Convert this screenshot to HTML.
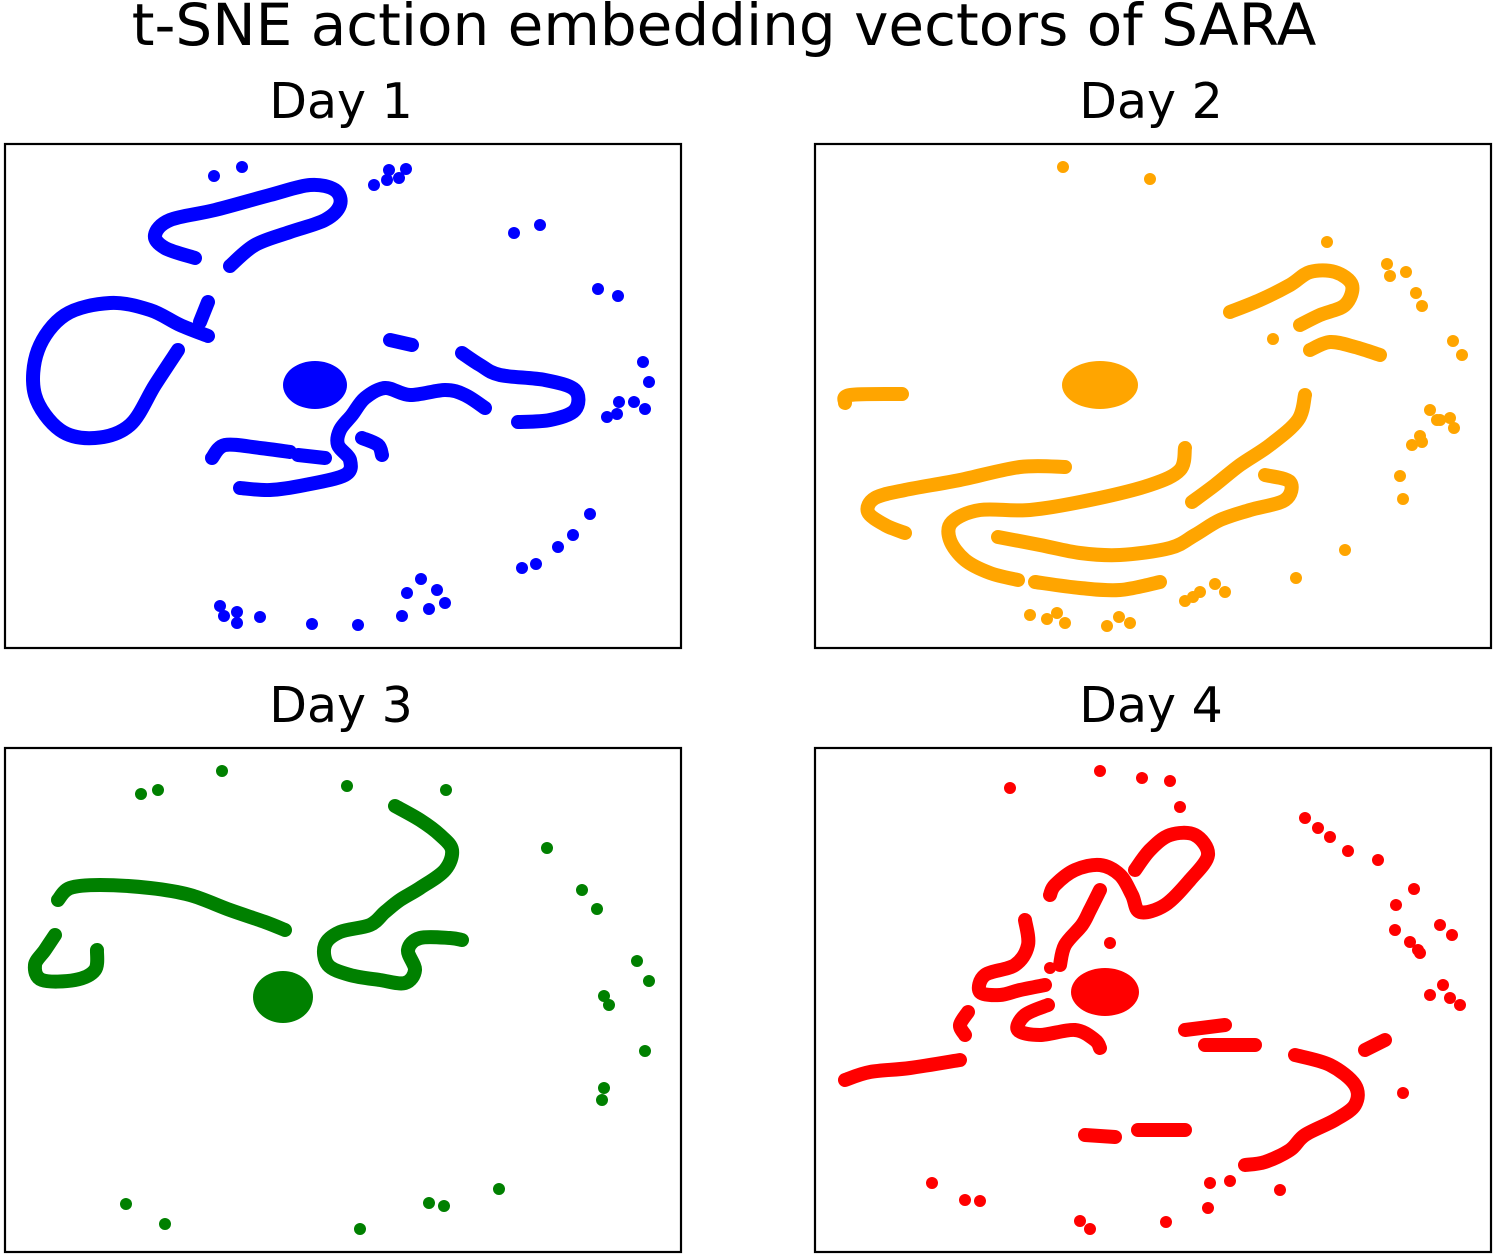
<!DOCTYPE html>
<html><head><meta charset="utf-8"><style>
html,body{margin:0;padding:0;background:#fff}
svg{display:block}
text{font-family:"DejaVu Sans","Liberation Sans",sans-serif;fill:#000}
</style></head><body>
<svg id="chart" width="1495" height="1256" viewBox="0 0 1495 1256" xmlns="http://www.w3.org/2000/svg">
<text x="724" y="45" font-size="58" text-anchor="middle">t-SNE action embedding vectors of SARA</text>
</svg>
<script>
// Panel data (t-SNE embedding coordinates, arbitrary units)
const panelTitles = ["Day 1", "Day 2", "Day 3", "Day 4"];
const panelColors = ["#0000ff", "#ffa500", "#008000", "#ff0000"];
const day1Curves = [
 [[195,258],[165,248],[155,235],[170,220],[215,210],[270,195],[310,185],[335,190],[340,205],[325,220],[290,232],[255,245],[230,266]],
 [[208,336],[180,325],[150,310],[110,303],[65,315],[38,350],[35,395],[60,430],[95,438],[130,425],[155,385],[178,350]],
 [[200,322],[208,302]],
 [[390,340],[412,345]],
 [[462,353],[480,365],[500,375],[545,380],[575,390],[575,410],[550,420],[518,422]],
 [[485,408],[465,395],[445,390],[410,395],[385,388],[365,398],[352,415],[340,430],[338,445],[350,460],[345,475],[305,485],[270,490],[240,488]],
 [[212,458],[225,445],[260,448],[290,452]],
 [[298,455],[325,458]],
 [[362,438],[378,445],[382,455]]
];
const day1Cluster = [315,385,32,24];
const day1Points = [[214,176],[242,167],[374,185],[387,180],[389,170],[399,178],[406,169],[514,233],[540,225],[598,289],[618,296],[643,362],[649,382],[619,402],[634,402],[645,409],[607,417],[617,414],[590,514],[573,535],[558,547],[536,564],[522,568],[421,579],[407,593],[437,590],[445,603],[429,609],[402,616],[220,606],[224,616],[237,612],[237,623],[260,617],[312,624],[358,625]];
const day2Curves = [
 [[1230,312],[1260,300],[1290,285],[1310,272],[1335,272],[1352,285],[1345,305],[1320,315],[1300,325]],
 [[1310,350],[1330,342],[1355,347],[1380,355]],
 [[845,403],[850,395],[902,394]],
 [[1305,395],[1298,420],[1270,445],[1240,465],[1215,485],[1192,502]],
 [[1065,467],[1020,467],[960,480],[905,490],[875,498],[868,512],[885,525],[905,533]],
 [[1185,448],[1180,470],[1150,485],[1090,500],[1030,510],[980,510],[952,522],[950,540],[965,560],[990,573],[1018,580]],
 [[1265,475],[1290,482],[1285,500],[1250,510],[1220,520],[1195,535],[1170,548],[1120,555],[1080,553],[1040,545],[998,537]],
 [[1035,582],[1080,588],[1120,590],[1160,582]]
];
const day2Cluster = [1100,385,38,24];
const day2Points = [[1063,167],[1150,179],[1327,242],[1387,264],[1390,276],[1406,272],[1416,293],[1422,306],[1273,339],[1453,341],[1462,355],[1430,410],[1440,420],[1450,418],[1454,428],[1437,420],[1420,436],[1412,445],[1422,442],[1400,476],[1403,499],[1345,550],[1296,578],[1215,584],[1225,592],[1200,592],[1185,601],[1193,597],[1030,615],[1047,619],[1057,613],[1065,623],[1107,626],[1119,617],[1130,623]];
const day3Curves = [
 [[285,930],[265,922],[230,910],[190,895],[150,888],[100,885],[70,888],[58,900]],
 [[55,935],[45,950],[35,965],[42,980],[75,980],[95,970],[97,950]],
 [[395,806],[420,820],[440,835],[452,850],[445,870],[420,888],[400,900],[385,912],[370,925],[340,932],[325,945],[328,965],[350,975],[380,980],[405,983],[415,970],[408,950],[420,938],[450,938],[462,940]]
];
const day3Cluster = [283,997,30,26];
const day3Points = [[222,771],[141,794],[158,790],[347,786],[446,790],[547,848],[582,890],[597,909],[637,961],[649,981],[604,996],[609,1005],[645,1051],[604,1088],[602,1100],[499,1189],[429,1203],[444,1206],[126,1204],[165,1224],[360,1229]];
const day4Curves = [
 [[1135,870],[1150,850],[1170,835],[1195,835],[1208,855],[1190,880],[1165,905],[1140,912],[1132,895],[1120,875],[1100,865],[1075,870],[1055,885],[1050,895]],
 [[1060,965],[1065,945],[1082,925],[1090,910],[1100,890]],
 [[1025,920],[1028,945],[1015,965],[985,975],[980,992],[1000,995],[1020,990],[1045,985]],
 [[1048,1005],[1025,1015],[1018,1030],[1040,1035],[1075,1030],[1095,1040],[1100,1048]],
 [[968,1012],[960,1025],[965,1035]],
 [[845,1080],[870,1072],[910,1068],[960,1060]],
 [[1185,1030],[1225,1025]],
 [[1205,1045],[1255,1045]],
 [[1295,1055],[1330,1065],[1355,1085],[1355,1105],[1335,1120],[1305,1135],[1290,1150],[1265,1162],[1245,1165]],
 [[1365,1050],[1385,1040]],
 [[1085,1135],[1115,1137]],
 [[1138,1130],[1185,1130]]
];
const day4Cluster = [1105,992,34,24];
const day4Points = [[1010,788],[1100,771],[1142,778],[1170,781],[1180,807],[1305,818],[1318,828],[1330,837],[1348,851],[1378,860],[1414,889],[1396,905],[1440,925],[1395,930],[1452,935],[1410,942],[1418,950],[1420,953],[1443,985],[1430,995],[1460,1005],[1450,998],[1403,1093],[1280,1190],[1230,1181],[1210,1183],[1208,1208],[1166,1222],[1090,1229],[1080,1221],[965,1200],[980,1201],[932,1183],[1050,968],[1110,943]];

const panelCurves = [day1Curves, day2Curves, day3Curves, day4Curves];
const panelClusters = [day1Cluster, day2Cluster, day3Cluster, day4Cluster];
const panelPoints = [day1Points, day2Points, day3Points, day4Points];

const NS = "http://www.w3.org/2000/svg";
const svg = document.getElementById("chart");
const boxes = [[5,144],[815,144],[5,748],[815,748]];
const PW = 676, PH = 504;
function mk(tag, attrs){const e=document.createElementNS(NS,tag);for(const k in attrs)e.setAttribute(k,attrs[k]);return e;}
function smoothPath(P){
  if (P.length < 3) return "M" + P.map(p => p[0] + " " + p[1]).join(" L");
  let d = "M" + P[0][0] + " " + P[0][1];
  for (let i = 0; i < P.length - 1; i++) {
    const p0 = P[Math.max(0, i - 1)], p1 = P[i], p2 = P[i + 1], p3 = P[Math.min(P.length - 1, i + 2)];
    const c1 = [p1[0] + (p2[0] - p0[0]) / 6, p1[1] + (p2[1] - p0[1]) / 6];
    const c2 = [p2[0] - (p3[0] - p1[0]) / 6, p2[1] - (p3[1] - p1[1]) / 6];
    d += " C" + c1[0] + " " + c1[1] + " " + c2[0] + " " + c2[1] + " " + p2[0] + " " + p2[1];
  }
  return d;
}

panelTitles.forEach((title, i) => {
  const [bx, by] = boxes[i];
  const domX = [bx, bx + PW], domY = [by, by + PH];
  const sx = v => bx + (v - domX[0]) * PW / (domX[1] - domX[0]);
  const sy = v => by + (v - domY[0]) * PH / (domY[1] - domY[0]);
  const col = panelColors[i];
  const g = mk("g", {});
  
  
  svg.appendChild(g);
  const t = mk("text", {x: bx + PW / 2 - 2, y: by - 26, "font-size": 49, "text-anchor": "middle"});
  t.textContent = title;
  
  
  g.appendChild(t);
  panelCurves[i].forEach(c => {
    const p = mk("path", {d: smoothPath(c.map(q => [sx(q[0]), sy(q[1])])), fill: "none", stroke: col, "stroke-width": 14, "stroke-linecap": "round", "stroke-linejoin": "round"});
    
    
    g.appendChild(p);
  });
  const cl = panelClusters[i];
  const e = mk("ellipse", {cx: sx(cl[0]), cy: sy(cl[1]), rx: cl[2], ry: cl[3], fill: col});
  
  
  g.appendChild(e);
  panelPoints[i].forEach(pt => {
    const c = mk("circle", {cx: sx(pt[0]), cy: sy(pt[1]), r: 6, fill: col});
    
    
    g.appendChild(c);
  });
  const r = mk("rect", {x: bx, y: by, width: PW, height: PH, fill: "none", stroke: "#000", "stroke-width": 2.2});
  
  
  g.appendChild(r);
});
</script>
</body></html>
